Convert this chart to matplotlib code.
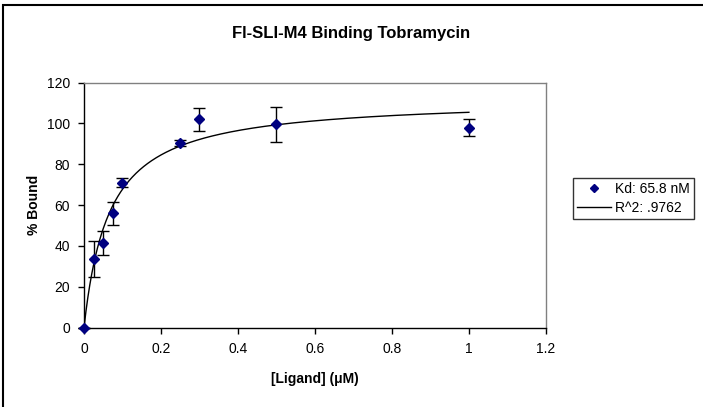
import numpy as np
import matplotlib.pyplot as plt
from matplotlib.patches import Rectangle

plt.rcParams['font.family'] = ['Liberation Sans', 'DejaVu Sans']

# measured binding data
ligand = [0, 0.025, 0.05, 0.075, 0.1, 0.25, 0.3, 0.5, 1.0]
bound = [0, 33.5, 41.5, 56, 71, 90.5, 102, 99.5, 98]
bound_err = [0, 8.7, 5.7, 5.5, 2.3, 1.5, 5.8, 8.7, 4.0]

# hyperbolic fit parameters (uM, % bound)
kd = 0.0658
bmax = 112.4

x_ticks = [0, 0.2, 0.4, 0.6, 0.8, 1, 1.2]
x_labels = ["0", "0.2", "0.4", "0.6", "0.8", "1", "1.2"]
y_ticks = [0, 20, 40, 60, 80, 100, 120]

fig = plt.figure(figsize=(7.03, 4.07), dpi=100)
ax = fig.add_axes([0.1195, 0.195, 0.657, 0.602])

# fitted curve
xf = np.linspace(0, 1.0, 400)
line, = ax.plot(xf, bmax * xf / (kd + xf), color="black", lw=1.0,
                label="R^2: .9762")

ax.errorbar(ligand, bound, yerr=bound_err, fmt="none", ecolor="black",
            elinewidth=1.0, capsize=4, capthick=1.0, clip_on=False)
pts, = ax.plot(ligand, bound, "D", color="#000080", markersize=5,
               linestyle="none", clip_on=False, zorder=5,
               label="Kd: 65.8 nM")

ax.set_xlim(0, 1.2)
ax.set_ylim(0, 120)
ax.set_xticks(x_ticks)
ax.set_xticklabels(x_labels)
ax.set_yticks(y_ticks)
ax.tick_params(direction="out", length=4, width=1, labelsize=10, colors="black", pad=6)

for s in ["left", "bottom"]:
    ax.spines[s].set_color("black")
    ax.spines[s].set_linewidth(1.0)
for s in ["top", "right"]:
    ax.spines[s].set_color("#808080")
    ax.spines[s].set_linewidth(1.0)

ax.set_xlabel("[Ligand] (\u03bcM)", fontsize=10, fontweight="bold", labelpad=12)
ax.set_ylabel("% Bound", fontsize=10, fontweight="bold", labelpad=4)

fig.text(0.5, 0.918, "Fl-SLI-M4 Binding Tobramycin", ha="center", va="center",
         fontsize=12, fontweight="bold")

leg = fig.legend(handles=[pts, line], loc="upper left",
                 bbox_to_anchor=(573 / 703, 1 - 178 / 407), fontsize=10,
                 frameon=True, fancybox=False, edgecolor="black",
                 handlelength=2.4, handletextpad=0.3, borderpad=0.3,
                 labelspacing=0.35, borderaxespad=0, markerscale=0.8)
leg.get_frame().set_linewidth(1.0)

# outer chart border (top and left visible)
fig.patches.append(Rectangle((3 / 703, -0.1), 1.2, 1 - 5 / 407 + 0.1,
                             transform=fig.transFigure, fill=False,
                             edgecolor="black", lw=1.5))

fig.savefig("out.png", dpi=100)
